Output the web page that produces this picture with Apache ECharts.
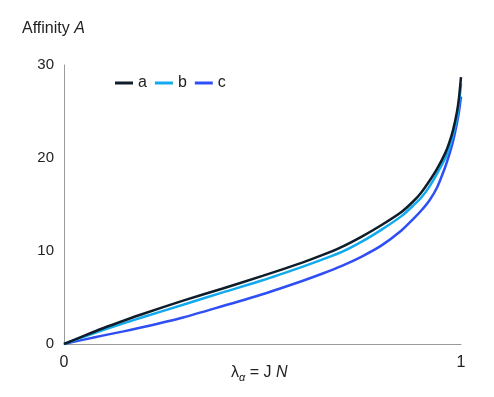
<!DOCTYPE html>
<html>
<head>
<meta charset="utf-8">
<script src="https://cdn.jsdelivr.net/npm/echarts@6/dist/echarts.min.js"></script>
<style>
html,body{margin:0;padding:0;background:#fff;}
#chart{width:494px;height:397px;}
</style>
</head>
<body>
<div id="chart"></div>
<script>
const seriesNames = ['a', 'b', 'c'];
const xTickLabels = ['0', '1'];
const yTickLabels = ['0', '10', '20', '30'];

const lambdaA = [0, 0.05, 0.1, 0.15, 0.2, 0.3, 0.4, 0.5, 0.6, 0.65, 0.7, 0.75, 0.8, 0.85, 0.88, 0.9, 0.92, 0.94, 0.96, 0.97, 0.98, 0.99, 0.995, 1];
const affinityA = [0, 0.88, 1.72, 2.5, 3.25, 4.66, 5.97, 7.32, 8.75, 9.55, 10.45, 11.55, 12.8, 14.2, 15.35, 16.3, 17.5, 18.85, 20.5, 21.6, 23.0, 25.0, 26.5, 28.7];

const lambdaB = [0, 0.05, 0.1, 0.15, 0.2, 0.3, 0.4, 0.5, 0.6, 0.65, 0.7, 0.75, 0.8, 0.85, 0.88, 0.9, 0.92, 0.94, 0.96, 0.97, 0.98, 0.99, 0.995, 1];
const affinityB = [0, 0.78, 1.52, 2.22, 2.9, 4.22, 5.55, 6.85, 8.3, 9.07, 9.9, 11.0, 12.3, 13.75, 14.9, 15.75, 16.9, 18.35, 19.95, 21.0, 22.5, 24.3, 25.8, 28.0];

const lambdaC = [0, 0.05, 0.1, 0.15, 0.2, 0.3, 0.4, 0.5, 0.6, 0.65, 0.7, 0.75, 0.8, 0.85, 0.88, 0.9, 0.92, 0.94, 0.96, 0.97, 0.98, 0.99, 0.995, 1];
const affinityC = [0, 0.47, 0.93, 1.36, 1.82, 2.85, 4.08, 5.35, 6.78, 7.55, 8.4, 9.4, 10.6, 12.2, 13.45, 14.35, 15.4, 16.85, 19.0, 20.3, 21.8, 23.8, 25.0, 26.6];

const colors = ['#0f1d2a', '#12aaee', '#2f4ff5'];
const xs = [lambdaA, lambdaB, lambdaC];
const ys = [affinityA, affinityB, affinityC];

const chart = echarts.init(document.getElementById('chart'), null, {renderer: 'canvas'});
const font = 'Liberation Sans, Arial, sans-serif';

const series = seriesNames.map((n, i) => ({
  name: n,
  type: 'line',
  data: xs[i].map((x, k) => [x, ys[i][k]]),
  showSymbol: false,
  smooth: 0.25,
  lineStyle: {color: colors[i], width: 2.5},
  itemStyle: {color: colors[i]},
  z: 3 - i
}));

chart.setOption({
  animation: false,
  backgroundColor: '#fff',
  grid: {left: 64, right: 33, top: 65, bottom: 53, containLabel: false},
  legend: {
    left: 110, top: 70,
    itemWidth: 18, itemHeight: 3, itemGap: 8,
    icon: 'rect',
    data: seriesNames,
    textStyle: {fontFamily: font, fontSize: 16, color: '#222'}
  },
  xAxis: {
    type: 'value', min: 0, max: 1, interval: 1,
    axisLine: {show: true, lineStyle: {color: '#9a9a9a', width: 1}},
    axisTick: {show: false},
    splitLine: {show: false},
    axisLabel: {
      fontFamily: font, fontSize: 16, color: '#222', margin: 11,
      formatter: v => xTickLabels[Math.round(v)]
    }
  },
  yAxis: {
    type: 'value', min: 0, max: 30, interval: 10,
    axisLine: {show: true, lineStyle: {color: '#9a9a9a', width: 1}},
    axisTick: {show: false},
    splitLine: {show: false},
    axisLabel: {
      fontFamily: font, fontSize: 15, color: '#222', margin: 10,
      formatter: v => yTickLabels[Math.round(v / 10)]
    }
  },
  graphic: [
    {
      type: 'text', left: 22, top: 21,
      style: {
        text: 'Affinity {i|A}',
        font: '16px ' + font, fill: '#222',
        rich: {i: {fontStyle: 'italic', fontFamily: font, fontSize: 16, fill: '#222'}}
      }
    },
    {
      type: 'text', left: 231, top: 365,
      style: {
        text: 'λ{s|α} = J {i|N}',
        font: '16px ' + font, fill: '#222',
        rich: {
          s: {fontStyle: 'italic', fontFamily: font, fontSize: 11, fill: '#222', verticalAlign: 'bottom', padding: [9, 0, 0, 0]},
          i: {fontStyle: 'italic', fontFamily: font, fontSize: 16, fill: '#222'}
        }
      }
    }
  ],
  series: series
});
</script>
</body>
</html>
